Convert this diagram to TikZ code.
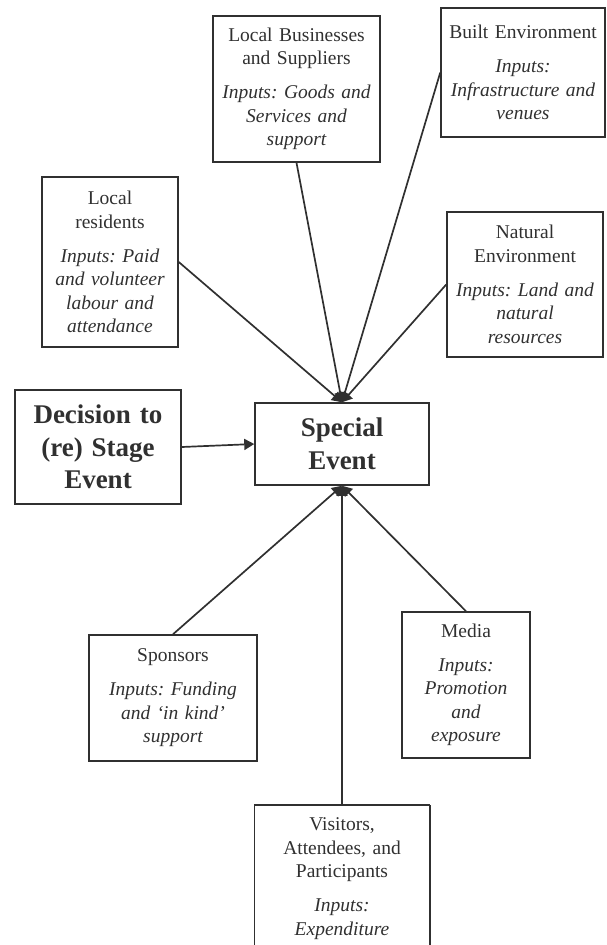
\documentclass[tikz,border=0pt]{standalone}
\usepackage{fontspec}
\setmainfont{Liberation Serif}
\usetikzlibrary{arrows.meta}
\definecolor{ink}{RGB}{48,48,48}
\frenchspacing
\tikzset{
  box/.style={draw=ink, line width=1.5pt, text=ink, inner sep=0pt, align=center,
    font=\fontsize{19.5}{23.5}\selectfont\frenchspacing},
  bigbox/.style={box, font=\fontsize{27}{32.5}\selectfont\bfseries},
  link/.style={draw=ink, line width=1.7pt, -{Triangle[length=10pt,width=11pt]}},
  edge/.style={draw=ink, line width=1.5pt},
}
\begin{document}
\begin{tikzpicture}[x=1pt,y=-1pt]
\clip (0,0) rectangle (607,945);

% stakeholder boxes around the event
\node[box, minimum width=136pt, minimum height=170pt, text width=130pt] (res) at (110,262)
  {Local\\residents\\[10.5pt]\itshape Inputs: Paid\\and volunteer\\labour and\\attendance};
\node[box, minimum width=167pt, minimum height=146pt, text width=160pt] (biz) at (296.5,89)
  {Local Businesses\\and Suppliers\\[10.5pt]\itshape Inputs: Goods and\\Services and\\support};
\node[box, minimum width=164pt, minimum height=129pt, text width=158pt] (built) at (523,72.5)
  {Built Environment\\[10.5pt]\itshape Inputs:\\Infrastructure and\\venues};
\node[box, minimum width=156pt, minimum height=145pt, text width=150pt] (nat) at (525,284.5)
  {Natural\\Environment\\[10.5pt]\itshape Inputs: Land and\\natural\\resources};
\node[bigbox, minimum width=166pt, minimum height=114pt, text width=160pt] (dec) at (98,447)
  {Decision to\\(re) Stage\\Event};
\node[bigbox, minimum width=174pt, minimum height=82pt, text width=168pt] (spe) at (342,444)
  {Special\\Event};
\node[box, minimum width=168pt, minimum height=126pt, text width=162pt] (spon) at (173,698)
  {Sponsors\\[10.5pt]\itshape Inputs: Funding\\and ‘in kind’\\support};
\node[box, minimum width=128pt, minimum height=146pt, text width=122pt] (med) at (466,685)
  {Media\\[10.5pt]\itshape Inputs:\\Promotion\\and\\exposure};

% the last box runs on past the lower edge, so only its top and sides are drawn
\node[box, draw=none, anchor=north, minimum width=174pt, minimum height=146pt, text width=168pt] (vis) at (342,805)
  {Visitors,\\Attendees, and\\Participants\\[10.5pt]\itshape Inputs:\\Expenditure};
\draw[edge] (vis.north west) -- ++(0,200);
\draw[edge] (vis.north east) -- ++(0,200);
\draw[edge] (vis.north west) -- (vis.north east);

% inputs flowing into the event
\draw[link] (res.east) -- (spe.north);
\draw[link] (biz.south) -- (spe.north);
\draw[link] (built.west) -- (spe.north);
\draw[link] (nat.west) -- (spe.north);
\draw[link] (spon.north) -- (spe.south);
\draw[link] (vis.north) -- (spe.south);
\draw[link] (med.north) -- (spe.south);
\draw[link] (dec.east) -- (spe.west);
\end{tikzpicture}
\end{document}
